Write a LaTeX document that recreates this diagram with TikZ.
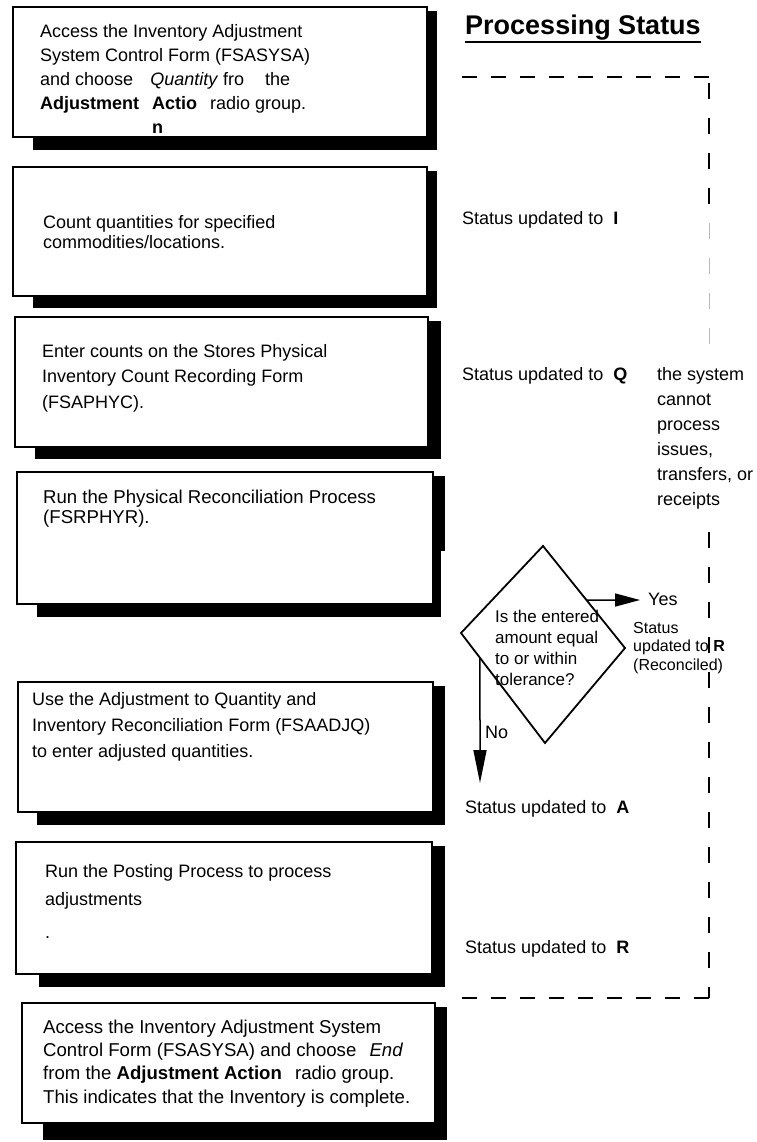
\documentclass[tikz,border=0pt]{standalone}
\usepackage{fontspec}
\setmainfont{Liberation Sans}
\usetikzlibrary{arrows.meta,calc}
\begin{document}
\begin{tikzpicture}[x=1pt,y=-1pt,
  frame/.style={draw=black,line width=2.5pt,fill=white,inner sep=0pt,outer sep=0pt,anchor=north west},
  txt/.style={anchor=north west,inner sep=0pt,align=left,font=\fontsize{18}{#1}\selectfont},
  txtb/.style={anchor=north west,inner sep=0pt,align=left,font=\fontsize{18.6}{#1}\selectfont},
  lbl/.style={anchor=base west,inner sep=0pt,font=\fontsize{18}{22}\selectfont},
  dashh/.style={line width=2pt,dash pattern=on 15pt off 14pt},
  dashv/.style={line width=2pt,dash pattern=on 16pt off 19pt},
  flow/.style={line width=1.5pt},
]
\useasboundingbox[fill=white] (0,0) rectangle (756,1142);

% ---- boxes with shadows ----
\fill (33,11) rectangle (437,150);
\node[frame,minimum width=414pt,minimum height=130pt] (b1) at (13,7) {};
\fill (33,171) rectangle (437,308);
\node[frame,minimum width=414pt,minimum height=129pt] (b2) at (13,167) {};
\fill (35,321) rectangle (441,459);
\node[frame,minimum width=413pt,minimum height=130pt] (b3) at (15,317) {};
\fill (37,476) rectangle (445,617);
\node[frame,minimum width=416pt,minimum height=132pt] (b4) at (17,472) {};
\fill (37,686) rectangle (445,825);
\node[frame,minimum width=415pt,minimum height=130pt] (b5) at (18,682) {};
\fill (39,846) rectangle (445,987);
\node[frame,minimum width=416pt,minimum height=132pt] (b6) at (16,842) {};
\fill (43,1007) rectangle (447,1140);
\node[frame,minimum width=413pt,minimum height=120pt] (b7) at (22,1003) {};
\fill[white] (440.8,551) rectangle (448,686);

% ---- box texts ----
\node[txt=24] (t1) at (40,20.2) {\strut Access the Inventory Adjustment\\ System Control Form (FSASYSA)\\ and choose\hspace{12pt} \textit{Quantity} fro\hspace{16pt} the\\ \textbf{Adjustment}\hspace{8pt} \textbf{Actio}\hspace{8pt} radio group.\\ \phantom{\textbf{Adjustment}\hspace{8pt} }\textbf{n}};
\node[txt=20] (t2) at (43,214) {\strut Count quantities for specified\\ commodities/locations.};
\node[txt=25.5] (t3) at (42,339.15) {\strut Enter counts on the Stores Physical\\ Inventory Count Recording Form\\ (FSAPHYC).};
\node[txtb=20.5] (t4) at (43,488.65) {\strut Run the Physical Reconciliation Process\\ (FSRPHYR).};
\node[txt=26] (t5) at (32,686.8) {\strut Use the Adjustment to Quantity and\\ Inventory Reconciliation Form (FSAADJQ)\\ to enter adjusted quantities.};
\node[txt=28] (t6) at (45,857.4) {\strut Run the Posting Process to process\\ adjustments\\[5pt] .};
\node[txtb=23.3] (t7) at (43,1016.7) {\strut Access the Inventory Adjustment System\\ Control Form (FSASYSA) and choose\hspace{8pt} \textit{End}\\ from the \textbf{Adjustment Action}\hspace{8pt} radio group.\\ This indicates that the Inventory is complete.};

% ---- title ----
\node[anchor=base west,inner sep=0pt,font=\fontsize{27}{30}\selectfont\bfseries] (title) at (465,35) {Processing Status};
\draw[line width=2pt] ([yshift=-7pt]title.base west) -- ([yshift=-7pt]title.base east);

% ---- dashed frame ----
\coordinate (fTL) at (462,77);
\coordinate (fTR) at (712,77);
\coordinate (fBL) at (462,998);
\coordinate (fBR) at (713,998);
\draw[dashh] (fTL) -- (fTR);
\draw[dashh] (fBL) -- (fBR);
\coordinate (v1) at (709,83);
\coordinate (v2) at (709,206);
\coordinate (v3) at (709,223);
\coordinate (v4) at (709,362);
\coordinate (v5) at (709,532);
\coordinate (v6) at (709,998);
\draw[dashv] (v1) -- (v2);
\draw[dashv,line width=0.7pt,draw=gray!55] (v3) -- (v4);
\draw[dashv] (v5) -- (v6);

% ---- status labels ----
\node[lbl] (sI) at (462,224) {Status updated to\ \ \textbf{I}};
\node[lbl] (sQ) at (462,380) {Status updated to\ \ \textbf{Q}};
\node[lbl] (sA) at (465,813) {Status updated to\ \ \textbf{A}};
\node[lbl] (sR) at (465,953) {Status updated to\ \ \textbf{R}};
\node[txt=25] (sys) at (657,362.5) {\strut the system\\ cannot\\ process\\ issues,\\ transfers, or\\ receipts};

% ---- decision ----
\coordinate (dT) at (543,546);
\coordinate (dR) at (625,648);
\coordinate (dB) at (545,743);
\coordinate (dL) at (461,633);
\draw[line width=1.8pt,fill=white,line join=miter] (dT) -- (dR) -- (dB) -- (dL) -- cycle;
\node[anchor=north west,inner sep=0pt,align=left,font=\fontsize{17}{21}\selectfont] (dq) at (495,607.3) {\strut Is the entered\\ amount equal\\ to or within\\ tolerance?};

\coordinate (yS) at ($(dT)!0.53!(dR)$);
\coordinate (yE) at (640,600);
\draw[flow,-{Triangle[length=25pt,width=13pt]}] (yS) -- (yE);
\node[lbl] (yes) at (648,605) {Yes};
\node[anchor=north west,inner sep=0pt,align=left,font=\fontsize{16}{18.5}\selectfont] (sRc) at (633,620) {\strut Status\\ updated to \textbf{R}\\ (Reconciled)};

\coordinate (nS) at ($(dL)!0.226!(dB)$);
\coordinate (nE) at (480,783);
\draw[flow,-{Triangle[length=33pt,width=13pt]}] (nS) -- (nE);
\node[lbl] (no) at (485,738) {No};
\end{tikzpicture}
\end{document}
